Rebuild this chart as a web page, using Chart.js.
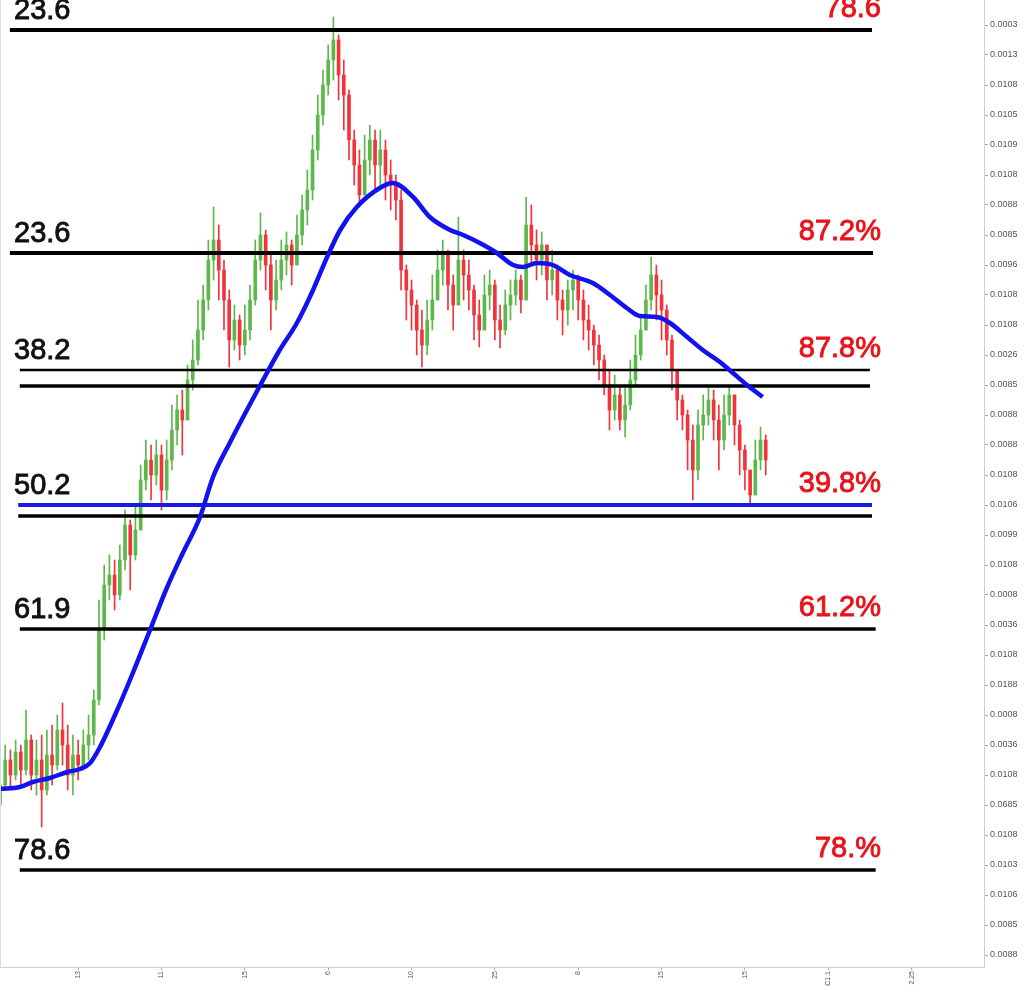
<!DOCTYPE html>
<html>
<head>
<meta charset="utf-8">
<script src="https://cdn.jsdelivr.net/npm/chart.js@4.4.1/dist/chart.umd.min.js"></script>
<style>
  html, body { margin: 0; padding: 0; background: #fff; }
  canvas { display: block; }
</style>
</head>
<body>
<canvas id="fibChart" width="1024" height="986"></canvas>
<script>
// candles: close / high / low, open is the previous close
var firstOpen = 195;
var closes = [215,240,225,248,230,260,225,240,210,245,235,270,255,225,245,235,255,265,300,370,
  415,425,405,440,475,445,470,520,540,525,545,510,540,570,590,580,620,640,670,700,
  740,760,730,700,660,680,655,670,700,740,765,735,700,720,740,755,735,765,790,810,
  850,885,915,940,960,925,905,860,835,805,840,860,835,850,825,815,800,730,710,695,
  670,655,680,700,730,745,715,695,740,725,710,685,670,705,715,680,670,695,705,720,
  700,775,755,740,755,720,730,700,690,710,720,700,680,670,655,640,615,590,605,580,
  595,620,645,670,700,725,705,690,660,630,600,585,560,530,575,585,600,580,560,585,
  605,575,550,530,505,540,560,540];
var highs = [240,255,250,260,255,290,265,260,265,270,275,285,297,275,265,260,270,285,310,400,
  435,445,440,455,490,480,495,535,560,555,560,555,560,595,605,610,635,660,700,715,
  760,793,775,740,710,695,685,695,715,760,787,770,745,740,760,768,760,785,805,830,
  865,905,930,955,983,965,940,910,870,850,865,875,870,870,860,840,825,810,735,720,
  700,690,700,725,750,760,750,725,783,750,740,715,700,725,730,720,695,710,720,730,
  725,803,795,770,768,755,750,735,710,720,730,725,710,695,675,665,645,630,625,615,
  615,640,665,685,715,743,735,720,695,665,625,605,590,575,590,605,612,610,595,605,
  613,605,580,555,530,560,573,565];
var lows = [180,210,210,220,215,225,210,205,173,205,215,230,235,210,205,220,230,240,255,295,
  360,400,390,400,430,410,440,480,510,500,515,490,500,530,555,545,590,610,635,660,
  690,720,700,670,633,650,640,645,660,695,730,710,670,690,710,725,715,740,755,775,
  800,840,875,905,920,900,870,840,815,793,815,825,810,815,800,790,780,710,680,670,
  645,633,645,670,700,715,690,670,700,700,690,660,653,680,690,660,652,665,680,695,
  687,700,735,720,725,700,705,680,665,675,690,680,660,650,635,620,605,570,580,570,
  563,590,615,640,670,690,680,660,645,610,580,570,530,500,520,560,575,560,530,550,
  575,555,525,510,497,505,530,525];

// moving average: candle position / value
var maX = [0,3.8,6.3,9.6,12.9,15.4,17.3,19.2,22.5,25.5,28.8,32.1,35.1,38.4,40.9,44.1,47.4,50.5,53.7,57,
  60.1,62.8,65.3,68.5,72.9,75.4,79.3,82.5,86.4,88.9,92.1,95.4,98.5,100.4,103.1,106.1,109.4,113.8,117.1,120.3,
  122.8,126.1,128.6,131.9,134.9,138.2,140.7,143.4,146.4];
var maY = [211,213,218,222,228,231,237,253,290,327,370,413,447,483,523,557,590,620,650,677,
  710,743,770,793,812,817,803,783,770,765,757,747,735,733,737,735,725,717,705,692,
  684,683,677,663,650,638,627,615,603];

// fib levels
var levelValues = [970, 747, 630, 614, 495, 484, 371, 130];
var levelStart = [1.9, 1.9, 3.8, 3.8, 3.5, 3.5, 3.8, 3.8];
var levelEnd = [167.4, 167.6, 167, 167, 167.4, 167.4, 168.1, 168.1];
var levelWidths = [4, 4, 2.5, 3.5, 4, 3.5, 3.5, 3.5];
var levelColors = ['#000', '#000', '#000', '#000', '#1a1ae6', '#000', '#000', '#000'];

var labelLevels = [970, 747, 630, 495, 371, 130];
var leftLabels = ['23.6', '23.6', '38.2', '50.2', '61.9', '78.6'];
var rightLabels = ['78.6', '87.2%', '87.8%', '39.8%', '61.2%', '78.%'];

// axis ticks
var yTickValues = [975,945,915,885,855,825,795,765,735,705,675,645,615,585,555,525,495,465,435,405,
  375,345,315,285,255,225,195,165,135,105,75,45];
var yTickLabels = ['0.0003','0.0013','0.0108','0.0105','0.0109','0.0108','0.0088','0.0085','0.0096','0.0108',
  '0.0108','0.0026','0.0085','0.0088','0.0088','0.0108','0.0106','0.0099','0.0108','0.0008',
  '0.0036','0.0108','0.0188','0.0008','0.0036','0.0108','0.0685','0.0108','0.0103','0.0106',
  '0.0085','0.0088'];
var xTickValues = [15, 31, 47, 63, 79, 95, 111, 127, 143, 159, 175];
var xTickLabels = ['13', '11', '15', '6', '10', '25', '8', '15', '15', 'C1.1', '2.25'];

var upColor = '#5cb84a';
var downColor = '#f0343c';

var wicks = [], bodies = [], candleColors = [];
for (var i = 0; i < closes.length; i++) {
  var open = i === 0 ? firstOpen : closes[i - 1];
  var close = closes[i];
  wicks.push({ x: i, y: [Math.min(lows[i], open, close), Math.max(highs[i], open, close)] });
  bodies.push({ x: i, y: [open, close] });
  candleColors.push(close >= open ? upColor : downColor);
}

var maData = maX.map(function (x, i) { return { x: x, y: maY[i] }; });

var datasets = [
  {
    type: 'line',
    data: maData,
    borderColor: '#1212ee',
    borderWidth: 4.5,
    pointRadius: 0,
    tension: 0.4,
    cubicInterpolationMode: 'monotone',
    order: 0
  }
];

for (var k = 0; k < levelValues.length; k++) {
  datasets.push({
    type: 'line',
    data: [{ x: levelStart[k], y: levelValues[k] }, { x: levelEnd[k], y: levelValues[k] }],
    borderColor: levelColors[k],
    borderWidth: levelWidths[k],
    pointRadius: 0,
    order: 1
  });
}

datasets.push({
  type: 'bar',
  data: bodies,
  backgroundColor: candleColors,
  barThickness: 3,
  minBarLength: 1,
  grouped: false,
  order: 2
});
datasets.push({
  type: 'bar',
  data: wicks,
  backgroundColor: candleColors,
  barThickness: 1,
  grouped: false,
  order: 3
});

var levelText = {
  id: 'levelText',
  afterDatasetsDraw: function (chart) {
    var ctx = chart.ctx;
    var y = chart.scales.y;
    ctx.save();
    ctx.font = '29px "Liberation Sans", Arial, sans-serif';
    ctx.textBaseline = 'alphabetic';
    ctx.lineWidth = 0.9;
    for (var i = 0; i < labelLevels.length; i++) {
      var py = y.getPixelForValue(labelLevels[i]);
      ctx.fillStyle = ctx.strokeStyle = '#111';
      ctx.textAlign = 'left';
      ctx.fillText(leftLabels[i], 14, py - 11);
      ctx.strokeText(leftLabels[i], 14, py - 11);
      ctx.fillStyle = ctx.strokeStyle = '#e8141c';
      ctx.textAlign = 'right';
      ctx.fillText(rightLabels[i], 881, py - 13);
      ctx.strokeText(rightLabels[i], 881, py - 13);
    }
    ctx.strokeStyle = '#dcdcdc';
    ctx.lineWidth = 1;
    ctx.beginPath();
    ctx.moveTo(0.5, chart.chartArea.top);
    ctx.lineTo(0.5, chart.chartArea.bottom);
    ctx.stroke();
    ctx.restore();
  }
};

var ctx = document.getElementById('fibChart').getContext('2d');
var chart = new Chart(ctx, {
  data: { datasets: datasets },
  plugins: [levelText],
  options: {
    responsive: false,
    animation: false,
    layout: { padding: 0 },
    plugins: { legend: { display: false }, tooltip: { enabled: false } },
    scales: {
      x: {
        type: 'linear',
        offset: false,
        min: 0,
        max: 188.9,
        grid: { display: true, offset: false, drawOnChartArea: false, tickLength: 3, color: '#aaa' },
        border: { color: '#cfcfcf' },
        afterBuildTicks: function (scale) {
          scale.ticks = xTickValues.map(function (v) { return { value: v }; });
        },
        ticks: {
          autoSkip: false,
          minRotation: 90,
          maxRotation: 90,
          padding: 1,
          color: '#555',
          font: { size: 7 },
          callback: function (value, index) { return xTickLabels[index]; }
        },
        afterFit: function (scale) {
          scale.height = 19;
          scale.paddingLeft = 0;
          scale.paddingRight = 0;
        }
      },
      y: {
        position: 'right',
        min: 33,
        max: 1000,
        grid: { display: true, drawOnChartArea: false, tickLength: 4, color: '#aaa' },
        border: { color: '#cfcfcf' },
        afterBuildTicks: function (scale) {
          scale.ticks = yTickValues.map(function (v) { return { value: v }; });
        },
        ticks: {
          autoSkip: false,
          padding: 2,
          color: '#555',
          font: { size: 9 },
          callback: function (value, index) { return yTickLabels[index]; }
        },
        afterFit: function (scale) {
          scale.width = 40;
          scale.paddingTop = 0;
          scale.paddingBottom = 0;
        }
      }
    }
  }
});
</script>
</body>
</html>
